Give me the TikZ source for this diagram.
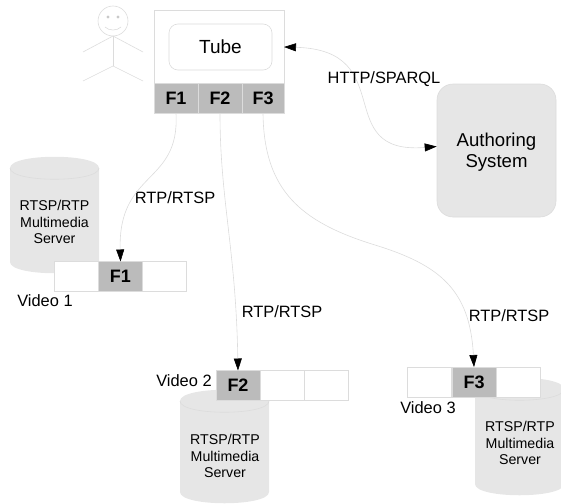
\documentclass[tikz,border=0pt]{standalone}
\usepackage{fontspec}
\setmainfont{Liberation Sans}
\usetikzlibrary{arrows.meta}
\definecolor{ln}{HTML}{DCDCDC}
\definecolor{cellgray}{HTML}{BBBBBB}
\definecolor{srv}{HTML}{E6E6E6}
\tikzset{
 cellbox/.style={draw=ln,line width=0.6pt,fill=white,minimum width=44pt,minimum height=30pt,inner sep=0pt,outer sep=0pt},
 fcell/.style={cellbox,fill=cellgray,font=\fontsize{18}{18}\selectfont\bfseries},
 conn/.style={draw=ln,line width=0.6pt},
 tip/.style={-{Triangle[length=12pt,width=8pt,color=black]}},
 lab/.style={font=\fontsize{16.4}{16.4}\selectfont,inner sep=0pt},
 srvtext/.style={font=\fontsize{14.2}{16.7}\selectfont,align=center,inner sep=0pt},
 limb/.style={draw=ln,line width=0.6pt},
}
% left, right, side-top y, side-bottom y (half height 11)
\newcommand{\serverdrum}[4]{%
 \fill[srv] (#1,#3) .. controls (#1,#3-15) and (#2,#3-15) .. (#2,#3)
   -- (#2,#4) .. controls (#2,#4+15) and (#1,#4+15) .. (#1,#4) -- cycle;
 \draw[ln,line width=0.6pt] (#1,#3) .. controls (#1,#3+15) and (#2,#3+15) .. (#2,#3);
}
\begin{document}
\begin{tikzpicture}[x=1pt,y=-1pt]
\useasboundingbox (0,0) rectangle (561,503);
\begin{scope}
\clip (0,0) rectangle (561,503);
% person
\draw[limb] (113,21) circle[radius=15];
\fill[ln!80!gray] (108,17) circle[radius=1.6] (118,17) circle[radius=1.6];
\draw[limb] (105,27) .. controls (109,31) and (117,31) .. (121,27);
\draw[limb] (113,36) -- (113,66);
\draw[limb] (83,52) -- (113,36) -- (143,52);
\draw[limb] (83,81) -- (113,66) -- (143,81);
% servers
\serverdrum{10}{99}{168}{262}
\serverdrum{180}{269}{401}{492}
\serverdrum{475}{564}{389}{484}
\end{scope}
\node[srvtext] (s1) at (54.5,222) {RTSP/RTP\\Multimedia\\Server};
\node[srvtext] (s2) at (225,456) {RTSP/RTP\\Multimedia\\Server};
\node[srvtext] (s3) at (520,443) {RTSP/RTP\\Multimedia\\Server};
% tube
\node[draw=ln,line width=0.6pt,fill=white,minimum width=130pt,minimum height=74pt,inner sep=0pt,outer sep=0pt] (tubebox) at (219,47) {};
\node[draw=ln,line width=0.6pt,rounded corners=9pt,minimum width=103pt,minimum height=46pt,inner sep=0pt,font=\fontsize{19}{19}\selectfont] (tube) at (220.5,47) {Tube};
\node[fcell] (f1) at (176,98.5) {F1};
\node[fcell] (f2) at (220,98.5) {F2};
\node[fcell,minimum width=42pt] (f3) at (263,98.5) {F3};
% authoring
\node[fill=srv,draw=ln,line width=0.6pt,rounded corners=16pt,minimum width=119pt,minimum height=133pt,inner sep=0pt] (auth) at (496.5,150.5) {};
\node[inner sep=0pt,align=center,font=\fontsize{18.6}{21}\selectfont] (authtext) at (496.5,152.5) {Authoring\\System};
% video strips
\node[cellbox] (a1) at (76,276.5) {};
\node[fcell] (a2) at (120.5,276.5) {F1};
\node[cellbox] (a3) at (164.5,276.5) {};
\node[fcell] (b1) at (238,385.5) {F2};
\node[cellbox] (b2) at (282,385.5) {};
\node[cellbox] (b3) at (326,385.5) {};
\node[cellbox] (c1) at (429.5,382) {};
\node[fcell] (c2) at (474,382) {F3};
\node[cellbox] (c3) at (518,382) {};
% labels
\node[lab] (v1) at (45,301) {Video 1};
\node[lab] (v2) at (184,381) {Video 2};
\node[lab] (v3) at (428,408) {Video 3};
\node[lab] (r1) at (175,198) {RTP/RTSP};
\node[lab] (r2) at (282,312) {RTP/RTSP};
\node[lab] (r3) at (509,316) {RTP/RTSP};
% connectors
\path[conn,tip] (f1.south) .. controls (180,185) and (118,170) .. (a2.north);
\path[conn,tip] (f2.south) .. controls (220,200) and (236,250) .. (b1.north);
\path[conn,tip] (f3.south) .. controls (264,190) and (300,222) .. (375,245) .. controls (440,265) and (470,290) .. (c2.north);
\path[conn,{Triangle[length=12pt,width=8pt,color=black]}-{Triangle[length=12pt,width=8pt,color=black]}] (tubebox.east) .. controls (400,50) and (330,155) .. ([yshift=4pt]auth.west);
\node[lab] (http) at (384,79) {HTTP/SPARQL};
\end{tikzpicture}
\end{document}
